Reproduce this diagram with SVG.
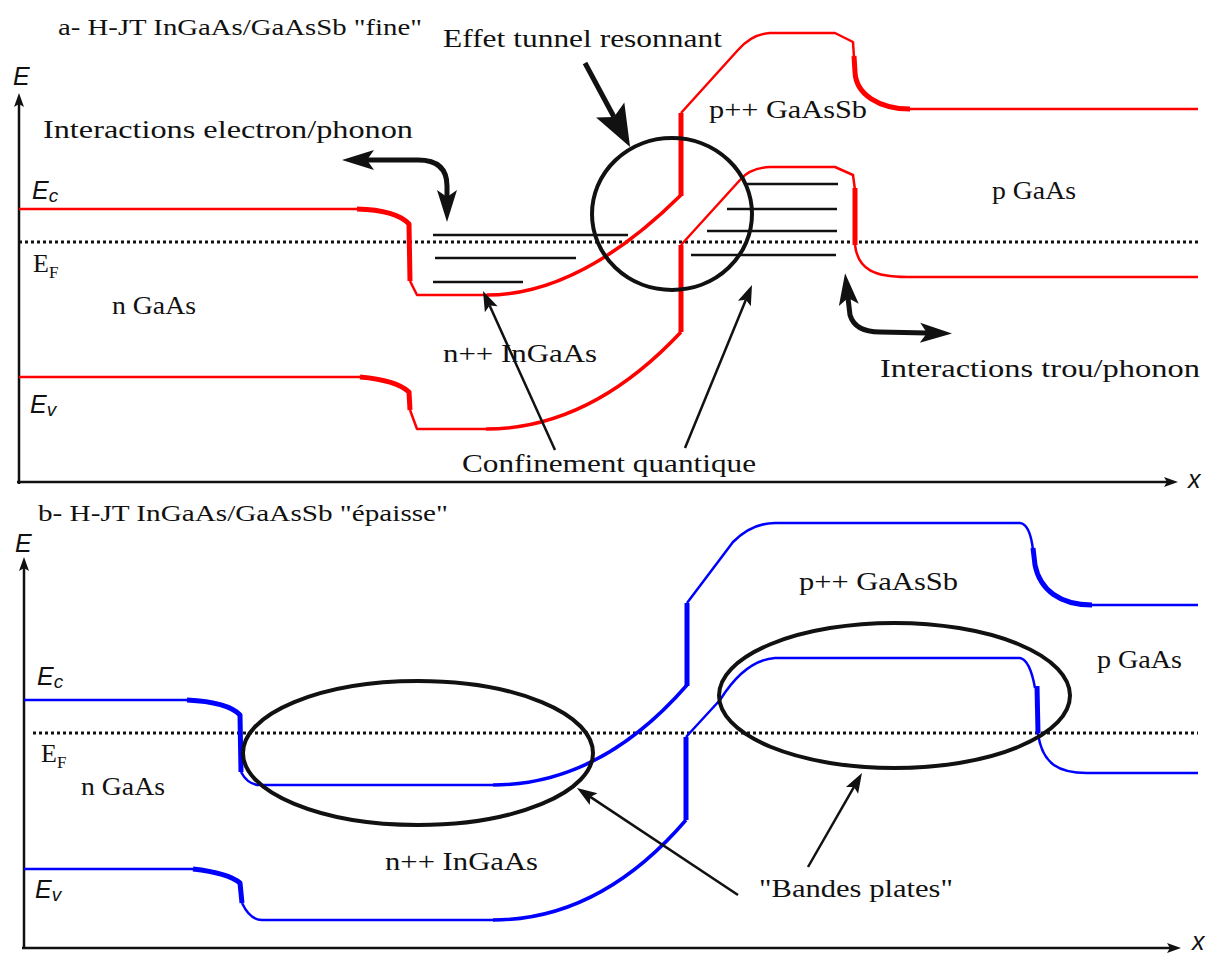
<svg xmlns="http://www.w3.org/2000/svg" width="1222" height="954" viewBox="0 0 1222 954">
<style>
.t{font-family:"Liberation Serif","Times New Roman",serif;font-size:26px;fill:#111}
.ti{font-family:"Liberation Serif","Times New Roman",serif;font-size:23px;fill:#111}
.s{font-family:"Liberation Sans",Arial,sans-serif;font-style:italic;font-size:25px;fill:#111}
.ax{stroke:#111;stroke-width:2.5;fill:none}
.ef{stroke:#111;stroke-width:3;stroke-dasharray:3 3;fill:none}
.r{stroke:#ff0000;stroke-width:2.5;fill:none;stroke-linejoin:round}
.rk{stroke:#ff0000;stroke-width:5;fill:none;stroke-linejoin:round}
.rm{stroke:#ff0000;stroke-width:3.5;fill:none}
.b{stroke:#0000ff;stroke-width:2.5;fill:none;stroke-linejoin:round}
.bk{stroke:#0000ff;stroke-width:5;fill:none;stroke-linejoin:round}
.bm{stroke:#0000ff;stroke-width:3.5;fill:none}
.lv{stroke:#111;stroke-width:2.7;fill:none}
.ring{stroke:#111;stroke-width:4;fill:none}
.thin{stroke:#111;stroke-width:2.5;fill:none;marker-end:url(#ah)}
.thick{stroke:#111;stroke-width:5;fill:none}
</style>
<defs>
<marker id="ah" markerUnits="userSpaceOnUse" markerWidth="20" markerHeight="14" refX="4" refY="7" orient="auto" overflow="visible"><path d="M0,0 L20,7 L0,14 L4,7 Z" fill="#111"/></marker>
<marker id="axh" markerUnits="userSpaceOnUse" markerWidth="14" markerHeight="10" refX="3" refY="5" orient="auto" overflow="visible"><path d="M0,0 L14,5 L0,10 L3,5 Z" fill="#111"/></marker>
<marker id="bh" markerUnits="userSpaceOnUse" markerWidth="32" markerHeight="20" refX="7" refY="10" orient="auto-start-reverse" overflow="visible"><path d="M0,0 L32,10 L0,20 L7,10 Z" fill="#111"/></marker>
<marker id="hh" markerUnits="userSpaceOnUse" markerWidth="42" markerHeight="32" refX="8" refY="16" orient="auto" overflow="visible"><path d="M0,0 L42,16 L0,32 L8,16 Z" fill="#111"/></marker>
</defs>

<g id="panel-a">
  <text id="title-a" class="ti" x="58" y="35" textLength="364" lengthAdjust="spacingAndGlyphs">a- H-JT InGaAs/GaAsSb "fine"</text>
  <g id="axes-a">
    <path class="ax" d="M19,484 V104" marker-end="url(#axh)"/>
    <path class="ax" d="M17,482 H1167" marker-end="url(#axh)"/>
    <text class="s" x="13" y="85">E</text>
    <text class="s" x="1188" y="488" font-size="28">x</text>
  </g>
  <g id="fermi-a">
    <path class="ef" d="M19,242 H1198"/>
    <text class="t" x="33" y="272">E<tspan font-size="17" dy="6">F</tspan></text>
  </g>
  <g id="bands-a">
    <text class="s" x="32" y="199">E<tspan font-size="19" dy="3">c</tspan></text>
    <text class="s" x="30" y="413">E<tspan font-size="19" dy="3">v</tspan></text>
    <path class="r" d="M19,209 H357"/>
    <path class="rk" d="M357,209 Q396,210 409,224 L410,281"/>
    <path class="r" d="M410,281 L417,295 H487"/>
    <path class="rm" d="M487,295 Q580,295 681,195"/>
    <path class="rk" d="M681,196 V113"/>
    <path class="r" d="M681,113 L738,50 Q752,34 770,33 H835 L853,42 L854,58"/>
    <path class="rk" d="M854,56 L855,72 C856,95 880,109 910,109"/>
    <path class="r" d="M908,109 H1198"/>
    <path class="r" d="M681,245 L740,180 Q750,168 770,167 H835 L853,175 L855,190"/>
    <path class="rk" d="M855,188 V245"/>
    <path class="r" d="M855,245 C858,270 875,277 907,277 H1198"/>
    <path class="rk" d="M681,245 V332"/>
    <path class="r" d="M19,377 H360"/>
    <path class="rk" d="M360,377 Q396,380 409,392 L410,410"/>
    <path class="r" d="M410,410 L417,429 H486"/>
    <path class="rm" d="M486,429 Q590,429 681,332"/>
  </g>
  <g id="levels-a">
    <path class="lv" d="M433,235 H628 M435,258 H576 M433,282 H523"/>
    <path class="lv" d="M747,184 H838 M727,209 H837 M707,231 H837 M691,255 H836"/>
  </g>
  <g id="tunnel-circle">
    <ellipse class="ring" cx="672" cy="214" rx="80" ry="76"/>
  </g>
  <g id="labels-a">
    <text class="t" x="443" y="47" textLength="279" lengthAdjust="spacingAndGlyphs">Effet tunnel resonnant</text>
    <text class="t" x="43" y="138" font-size="27" textLength="370" lengthAdjust="spacingAndGlyphs">Interactions electron/phonon</text>
    <text class="t" x="709" y="118" textLength="158" lengthAdjust="spacingAndGlyphs">p++ GaAsSb</text>
    <text class="t" x="992" y="199" textLength="84" lengthAdjust="spacingAndGlyphs">p GaAs</text>
    <text class="t" x="112" y="314" textLength="84" lengthAdjust="spacingAndGlyphs">n GaAs</text>
    <text class="t" x="443" y="362" textLength="154" lengthAdjust="spacingAndGlyphs">n++ InGaAs</text>
    <text class="t" x="462" y="472" textLength="294" lengthAdjust="spacingAndGlyphs">Confinement quantique</text>
    <text class="t" x="880" y="377" font-size="27" textLength="320" lengthAdjust="spacingAndGlyphs">Interactions trou/phonon</text>
  </g>
</g>

<g id="panel-b">
  <text id="title-b" class="ti" x="38" y="521" textLength="410" lengthAdjust="spacingAndGlyphs">b- H-JT InGaAs/GaAsSb "épaisse"</text>
  <g id="axes-b">
    <path class="ax" d="M24,949 V568" marker-end="url(#axh)"/>
    <path class="ax" d="M22,948 H1170" marker-end="url(#axh)"/>
    <text class="s" x="15" y="552">E</text>
    <text class="s" x="1192" y="950" font-size="26">x</text>
  </g>
  <g id="fermi-b">
    <path class="ef" d="M33,733 H1198"/>
    <text class="t" x="41" y="762">E<tspan font-size="17" dy="6">F</tspan></text>
  </g>
  <g id="bands-b">
    <text class="s" x="37" y="685">E<tspan font-size="19" dy="3">c</tspan></text>
    <text class="s" x="35" y="898">E<tspan font-size="19" dy="3">v</tspan></text>
    <path class="b" d="M24,700 H187"/>
    <path class="bk" d="M187,700 Q228,702 240,715 L241,772"/>
    <path class="b" d="M241,772 Q248,785 260,785 H493"/>
    <path class="bm" d="M493,785 Q600,785 687,685"/>
    <path class="bk" d="M687,686 V603"/>
    <path class="b" d="M687,603 L733,542 Q752,523 775,523 H1020 Q1030,524 1033,550"/>
    <path class="bk" d="M1033,548 L1035,565 C1040,590 1060,605 1092,605"/>
    <path class="b" d="M1090,605 H1198"/>
    <path class="b" d="M686,737 L720,700 Q745,660 775,658 H1020 Q1030,660 1035,688"/>
    <path class="bk" d="M1037,686 L1038,733"/>
    <path class="b" d="M1038,733 C1042,765 1060,773 1087,773 H1198"/>
    <path class="bk" d="M686,737 V820"/>
    <path class="bm" d="M686,820 Q600,920 493,920"/>
    <path class="b" d="M24,869 H193"/>
    <path class="bk" d="M193,869 Q228,873 240,883 L242,903"/>
    <path class="b" d="M242,903 Q250,920 262,920 H494"/>
  </g>
  <g id="flat-band-ellipses">
    <ellipse class="ring" cx="418" cy="753" rx="175" ry="72"/>
    <ellipse class="ring" cx="894.5" cy="695.5" rx="175.5" ry="72.5"/>
  </g>
  <g id="labels-b">
    <text class="t" x="799" y="590" textLength="159" lengthAdjust="spacingAndGlyphs">p++ GaAsSb</text>
    <text class="t" x="1097" y="668" textLength="85" lengthAdjust="spacingAndGlyphs">p GaAs</text>
    <text class="t" x="81" y="795" textLength="84" lengthAdjust="spacingAndGlyphs">n GaAs</text>
    <text class="t" x="385" y="870" textLength="153" lengthAdjust="spacingAndGlyphs">n++ InGaAs</text>
    <text class="t" x="759" y="897" textLength="194" lengthAdjust="spacingAndGlyphs">"Bandes plates"</text>
  </g>
</g>

<g id="connectors">
  <path class="thick" d="M585,63 L614,117" stroke-width="6" marker-end="url(#hh)"/>
  <path class="thick" d="M367,160 L418,160 Q447,160 447,186 L447,197" marker-start="url(#bh)" marker-end="url(#bh)"/>
  <path class="thick" d="M848,298 L850,315 Q855,332 880,332 L927,333" marker-start="url(#bh)" marker-end="url(#bh)"/>
  <path class="thin" d="M555,450 L489.6,305.6"/>
  <path class="thin" d="M685,448 L745.9,299.8"/>
  <path class="thin" d="M738,895 L590.3,796.9"/>
  <path class="thin" d="M808,867 L854,786.9"/>
</g>
</svg>
